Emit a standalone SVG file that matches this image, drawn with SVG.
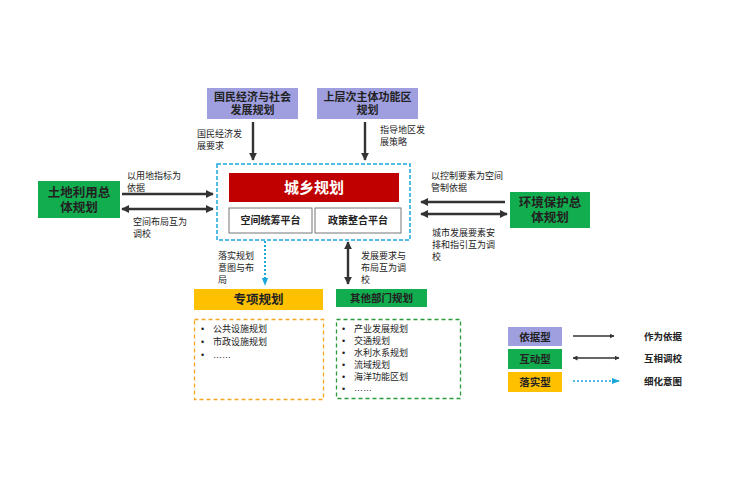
<svg xmlns="http://www.w3.org/2000/svg" width="750" height="500" viewBox="0 0 750 500">
<defs>
<marker id="ah" viewBox="0 0 10 10" refX="9" refY="5" markerWidth="5" markerHeight="5" orient="auto-start-reverse" markerUnits="userSpaceOnUse">
<path d="M0,0 L10,5 L0,10 z" fill="#333"/>
</marker>
<marker id="ahs" viewBox="0 0 10 10" refX="9" refY="5" markerWidth="8" markerHeight="8" orient="auto-start-reverse" markerUnits="userSpaceOnUse">
<path d="M0,0 L10,5 L0,10 z" fill="#333"/>
</marker>
<marker id="ahc" viewBox="0 0 10 10" refX="9" refY="5" markerWidth="8" markerHeight="8" orient="auto" markerUnits="userSpaceOnUse">
<path d="M0,1 L10,5 L0,9 z" fill="#1aa7dc"/>
</marker>
</defs>
<style>
text{font-family:"Liberation Sans","Noto Sans CJK SC",sans-serif;fill:#222}
.b{font-weight:bold}
.lbl{font-size:9px}
.ln{stroke:#333;stroke-width:2.4;fill:none}
.dot{stroke:#1aa7dc;stroke-width:2;stroke-dasharray:2,2;fill:none}
.purple{fill:#9f9fe0}
.green{fill:#12ad4f}
.yellow{fill:#ffc000}
</style>
<rect width="750" height="500" fill="#fff"/>

<g id="n-guomin">
<rect class="purple" x="207" y="88" width="91" height="31"/>
<text class="b" x="252.5" y="101" font-size="11" text-anchor="middle">国民经济与社会</text>
<text class="b" x="252.5" y="114" font-size="11" text-anchor="middle">发展规划</text>
</g>
<g id="n-shangceng">
<rect class="purple" x="317" y="88" width="101" height="31"/>
<text class="b" x="367.5" y="101" font-size="11" text-anchor="middle">上层次主体功能区</text>
<text class="b" x="367.5" y="114" font-size="11" text-anchor="middle">规划</text>
</g>

<g id="n-chengxiang">
<rect x="217" y="164" width="193" height="76" fill="none" stroke="#1aa7dc" stroke-width="1.5" stroke-dasharray="4,2"/>
<rect x="229" y="173" width="170" height="29" fill="#c00000"/>
<text class="b" x="314" y="193" font-size="15" text-anchor="middle" style="fill:#fff">城乡规划</text>
<rect x="229" y="208" width="83" height="25" fill="#fff" stroke="#777" stroke-width="1"/>
<text class="b" x="270.5" y="224" font-size="10" text-anchor="middle">空间统筹平台</text>
<rect x="315" y="208" width="86" height="25" fill="#fff" stroke="#777" stroke-width="1"/>
<text class="b" x="358" y="224" font-size="10" text-anchor="middle">政策整合平台</text>
</g>

<g id="n-tudi">
<rect class="green" x="38" y="181" width="82" height="37"/>
<text class="b" x="79" y="197" font-size="12.5" text-anchor="middle">土地利用总</text>
<text class="b" x="79" y="212" font-size="12.5" text-anchor="middle">体规划</text>
</g>
<g id="n-huanjing">
<rect class="green" x="510" y="192" width="80" height="36"/>
<text class="b" x="550" y="207" font-size="12.5" text-anchor="middle">环境保护总</text>
<text class="b" x="550" y="222" font-size="12.5" text-anchor="middle">体规划</text>
</g>

<g id="n-zhuanxiang">
<rect class="yellow" x="194" y="289" width="129" height="21"/>
<text class="b" x="258.5" y="304" font-size="12.5" text-anchor="middle">专项规划</text>
<rect x="194.5" y="319.5" width="129" height="80" fill="none" stroke="#f5a623" stroke-width="1.3" stroke-dasharray="4,3"/>
<text class="lbl" x="201" y="332">•</text><text class="lbl" x="213" y="332">公共设施规划</text>
<text class="lbl" x="201" y="345">•</text><text class="lbl" x="213" y="345">市政设施规划</text>
<text class="lbl" x="201" y="358">•</text><text class="lbl" x="213" y="358">……</text>
</g>

<g id="n-qita">
<rect class="green" x="336" y="289" width="91" height="18"/>
<text class="b" x="381.5" y="302" font-size="10.5" text-anchor="middle">其他部门规划</text>
<rect x="336.5" y="319.5" width="124" height="79" fill="none" stroke="#2a9a3a" stroke-width="1.3" stroke-dasharray="4,3"/>
<text class="lbl" x="342" y="332">•</text><text class="lbl" x="354" y="332">产业发展规划</text>
<text class="lbl" x="342" y="344">•</text><text class="lbl" x="354" y="344">交通规划</text>
<text class="lbl" x="342" y="356">•</text><text class="lbl" x="354" y="356">水利水系规划</text>
<text class="lbl" x="342" y="368">•</text><text class="lbl" x="354" y="368">流域规划</text>
<text class="lbl" x="342" y="380">•</text><text class="lbl" x="354" y="380">海洋功能区划</text>
<text class="lbl" x="342" y="392">•</text><text class="lbl" x="354" y="391">……</text>
</g>

<g id="connectors">
<line class="ln" x1="253" y1="122" x2="253" y2="160" marker-end="url(#ahs)"/>
<text class="lbl" x="197" y="137">国民经济发</text>
<text class="lbl" x="197" y="149">展要求</text>
<line class="ln" x1="365" y1="122" x2="365" y2="160" marker-end="url(#ahs)"/>
<text class="lbl" x="380" y="133">指导地区发</text>
<text class="lbl" x="380" y="145">展策略</text>

<line class="ln" x1="122" y1="194" x2="213" y2="194" marker-end="url(#ahs)"/>
<line class="ln" x1="122" y1="209" x2="213" y2="209" marker-start="url(#ahs)" marker-end="url(#ahs)"/>
<text class="lbl" x="127" y="179">以用地指标为</text>
<text class="lbl" x="127" y="191">依据</text>
<text class="lbl" x="133" y="225">空间布局互为</text>
<text class="lbl" x="133" y="237">调校</text>

<line class="ln" x1="505" y1="202" x2="421" y2="202" marker-end="url(#ahs)"/>
<line class="ln" x1="421" y1="214" x2="507" y2="214" marker-start="url(#ahs)" marker-end="url(#ahs)"/>
<text class="lbl" x="431" y="179">以控制要素为空间</text>
<text class="lbl" x="431" y="191">管制依据</text>
<text class="lbl" x="432" y="236">城市发展要素安</text>
<text class="lbl" x="432" y="248">排和指引互为调</text>
<text class="lbl" x="432" y="260">校</text>

<line class="dot" x1="265" y1="241" x2="265" y2="285" marker-end="url(#ahc)"/>
<text class="lbl" x="218" y="259">落实规划</text>
<text class="lbl" x="218" y="271">意图与布</text>
<text class="lbl" x="218" y="283">局</text>
<line class="ln" x1="348" y1="242" x2="348" y2="284" marker-start="url(#ahs)" marker-end="url(#ahs)"/>
<text class="lbl" x="361" y="259">发展要求与</text>
<text class="lbl" x="361" y="271">布局互为调</text>
<text class="lbl" x="361" y="283">校</text>
</g>

<g id="legend">
<rect class="purple" x="508" y="327" width="54" height="19"/>
<text class="b" x="535" y="341" font-size="10.5" text-anchor="middle">依据型</text>
<rect class="green" x="508" y="349" width="54" height="20"/>
<text class="b" x="535" y="363" font-size="10.5" text-anchor="middle">互动型</text>
<rect class="yellow" x="508" y="372" width="54" height="20"/>
<text class="b" x="535" y="386" font-size="10.5" text-anchor="middle">落实型</text>
<line x1="573" y1="336" x2="614" y2="336" stroke="#333" stroke-width="1.5" marker-end="url(#ah)"/>
<line x1="573" y1="358" x2="619" y2="358" stroke="#333" stroke-width="1.5" marker-start="url(#ah)" marker-end="url(#ah)"/>
<line x1="573" y1="381" x2="619" y2="381" stroke="#1aa7dc" stroke-width="1.5" stroke-dasharray="2,2" marker-end="url(#ahc)"/>
<text class="b" x="644" y="340" font-size="9.5">作为依据</text>
<text class="b" x="644" y="362" font-size="9.5">互相调校</text>
<text class="b" x="644" y="385" font-size="9.5">细化意图</text>
</g>
</svg>
